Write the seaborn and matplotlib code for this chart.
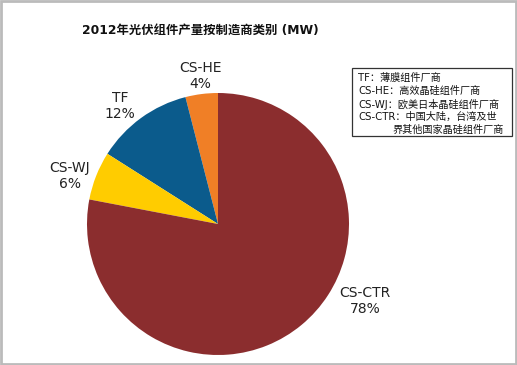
import matplotlib
matplotlib.use("Agg")
import matplotlib.pyplot as plt
import seaborn as sns
from matplotlib.patches import Rectangle

sns.set_theme(style="white")
plt.rcParams['font.family'] = ['DejaVu Sans', 'Noto Sans CJK SC']

# Data
categories = ["CS-HE", "TF", "CS-WJ", "CS-CTR"]
shares = [4, 12, 6, 78]
colors = ["#F07F26", "#0B5B8C", "#FFCC00", "#8B2D2E"]
title = "2012年光伏组件产量按制造商类别 (MW)"
legend_lines = ["TF：薄膜组件厂商", "CS-HE：高效晶硅组件厂商", "CS-WJ：欧美日本晶硅组件厂商",
                "CS-CTR：中国大陆，台湾及世", "界其他国家晶硅组件厂商"]

W, H = 517, 365
fig = plt.figure(figsize=(W / 100, H / 100), dpi=100)

cx, cy, r = 218, 224, 131
ax = fig.add_axes([(cx - r) / W, (H - cy - r) / H, 2 * r / W, 2 * r / H])
ax.pie(shares, colors=colors, startangle=90, counterclock=True, radius=1,
       wedgeprops=dict(linewidth=0))
ax.set_xlim(-1, 1)
ax.set_ylim(-1, 1)
ax.set_aspect('equal')
ax.axis('off')

def fx(px):
    return px / W
def fy(py):
    return 1 - py / H

label_pos = {"CS-HE": (200, 76), "TF": (120, 106), "CS-WJ": (70, 176), "CS-CTR": (365, 301)}
for cat, val in zip(categories, shares):
    x, y = label_pos[cat]
    fig.text(fx(x), fy(y), f"{cat}\n{val}%", ha='center', va='center', fontsize=10,
             color='#222222', linespacing=1.1)

fig.text(fx(82), fy(30), title, ha='left', va='center', fontsize=8.9, fontweight='bold',
         family=['DejaVu Sans', 'Noto Sans CJK SC'], color='#111111')

# legend box
fig.patches.append(Rectangle((fx(352), fy(136)), (512 - 352) / W, (136 - 68) / H,
                             transform=fig.transFigure, fill=False, edgecolor='#333333', lw=0.9))
ys = [78, 91, 104, 117, 130]
xs = [358, 358, 358, 358, 393]
for t, xx, yy in zip(legend_lines, xs, ys):
    fig.text(fx(xx), fy(yy), t, ha='left', va='center', fontsize=7.3,
             family=['DejaVu Sans', 'Noto Sans CJK SC'], color='#111111')

# outer frame
fig.patches.append(Rectangle((0.002, 0.003), 0.996, 0.994, transform=fig.transFigure,
                             fill=False, edgecolor='#BBBBBB', lw=2))

fig.savefig("out.png", dpi=100)
